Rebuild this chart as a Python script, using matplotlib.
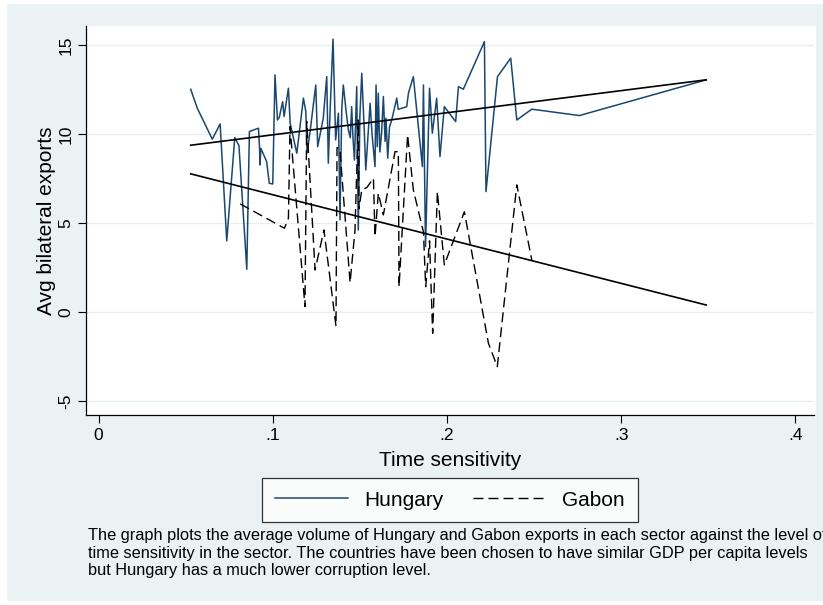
import matplotlib
matplotlib.use('Agg')
import matplotlib.pyplot as plt
from matplotlib.patches import Rectangle

plt.rcParams['font.family'] = ['Liberation Sans', 'DejaVu Sans']

# Hungary: average exports per sector against time sensitivity
hun_x = [0.0529, 0.0567, 0.0653, 0.0698, 0.0736, 0.0782, 0.0806, 0.0851, 0.0866,
         0.0918, 0.0924, 0.0927, 0.0932, 0.0965, 0.0980, 0.1000, 0.1013, 0.1027,
         0.1038, 0.1045, 0.1057, 0.1065, 0.1090, 0.1100, 0.1138, 0.1150, 0.1176,
         0.1190, 0.1197, 0.1215, 0.1247, 0.1258, 0.1290, 0.1310, 0.1319, 0.1330,
         0.1346, 0.1361, 0.1377, 0.1386, 0.1396, 0.1405, 0.1420, 0.1434, 0.1445,
         0.1453, 0.1460, 0.1469, 0.1482, 0.1491, 0.1500, 0.1511, 0.1525, 0.1534,
         0.1559, 0.1570, 0.1587, 0.1593, 0.1600, 0.1606, 0.1615, 0.1625, 0.1635,
         0.1645, 0.1650, 0.1660, 0.1670, 0.1683, 0.1712, 0.1720, 0.1769, 0.1779,
         0.1807, 0.1859, 0.1865, 0.1877, 0.1900, 0.1916, 0.1941, 0.1960, 0.1985,
         0.2050, 0.2066, 0.2094, 0.2215, 0.2224, 0.2290, 0.2366, 0.2401, 0.2487,
         0.2760, 0.3488]
hun_y = [12.53, 11.46, 9.72, 10.58, 4.0, 9.81, 9.36, 2.4, 10.15,
         10.34, 9.3, 8.27, 9.2, 8.46, 7.24, 7.2, 13.34, 10.8,
         10.96, 11.3, 11.83, 11.0, 12.59, 10.62, 8.93, 9.9, 12.03,
         11.27, 8.95, 10.2, 12.77, 9.3, 10.9, 13.24, 8.37, 11.5,
         15.35, 9.68, 11.18, 5.18, 11.37, 12.77, 11.4, 10.24, 9.8,
         11.55, 9.9, 8.55, 12.68, 4.61, 11.0, 13.43, 10.3, 7.99,
         11.74, 10.0, 8.18, 12.77, 9.3, 12.31, 9.0, 10.1, 12.12,
         9.6, 10.9, 8.65, 10.4, 10.8, 12.03, 11.4, 11.55, 12.31,
         13.24, 8.18, 12.77, 3.68, 12.59, 10.06, 12.02, 8.74, 11.55,
         10.71, 12.68, 12.53, 15.21, 6.77, 13.24, 14.28, 10.8, 11.41,
         11.05, 13.06]

# Gabon
gab_x = [0.0813, 0.1067, 0.1090, 0.1099, 0.1185, 0.1195, 0.1243, 0.1294, 0.1363,
         0.1369, 0.1385, 0.1444, 0.1472, 0.1491, 0.1495, 0.1511, 0.1540, 0.1578,
         0.1587, 0.1606, 0.1635, 0.1702, 0.1721, 0.1725, 0.1774, 0.1807, 0.1865,
         0.1878, 0.1900, 0.1918, 0.1945, 0.1985, 0.2100, 0.2238, 0.2289, 0.2401,
         0.2487]
gab_y = [6.08, 4.71, 5.27, 10.43, 0.3, 10.71, 2.36, 4.61, -0.8,
         9.25, 9.2, 1.65, 4.6, 10.8, 5.8, 6.87, 7.0, 7.52,
         4.24, 6.68, 5.46, 9.02, 9.02, 1.42, 9.96, 6.87, 4.5,
         1.42, 4.0, -1.2, 6.77, 2.65, 5.64, -1.76, -3.08, 7.15,
         2.93]

# fitted values
fit_x = [0.0529, 0.3488]
hun_fit = [9.38, 13.06]
gab_fit = [7.77, 0.39]

xticks = [0, 0.1, 0.2, 0.3, 0.4]
xtick_labels = ['0', '.1', '.2', '.3', '.4']
yticks = [-5, 0, 5, 10, 15]

note = ("The graph plots the average volume of Hungary and Gabon exports in each sector against the level of\n"
        "time sensitivity in the sector. The countries have been chosen to have similar GDP per capita levels\n"
        "but Hungary has a much lower corruption level.")

W, H = 823, 605
fig = plt.figure(figsize=(W / 100, H / 100), dpi=100, facecolor='white')
fig.patches.append(Rectangle((7 / W, 4 / H), 1, 1 - 8 / H, transform=fig.transFigure,
                             facecolor='#EAF2F3', edgecolor='none', zorder=-2))
# white plot region
fig.patches.append(Rectangle((86 / W, 1 - 415 / H), (816 - 86) / W, (415 - 26) / H,
                             transform=fig.transFigure, facecolor='white',
                             edgecolor='none', zorder=-1))

ax = fig.add_axes([86 / W, 1 - 415 / H, (814 - 86) / W, (415 - 26) / H])
ax.set_zorder(1)
ax.patch.set_alpha(0)

navy = '#1A476F'
ax.plot(hun_x, hun_y, color=navy, lw=1.1, label='Hungary', zorder=3)
ax.plot(gab_x, gab_y, color='black', lw=1.0, ls=(0, (7.2, 3.6)), label='Gabon', zorder=3)
ax.plot(fit_x, hun_fit, color='black', lw=1.2, zorder=4)
ax.plot(fit_x, gab_fit, color='black', lw=1.2, zorder=4)

ax.set_xlim(-0.0072, 0.4107)
ax.set_ylim(-5.80, 16.09)
ax.set_xticks(xticks)
ax.set_xticklabels(xtick_labels)
ax.set_yticks(yticks)
ax.set_yticklabels([str(v) for v in yticks], rotation=90, va='center')
ax.tick_params(axis='both', direction='out', length=6, width=0.8, labelsize=12.5, pad=3)
ax.grid(axis='y', color='#E6EFF0', lw=1.0)
ax.set_axisbelow(True)
for s in ['top', 'right']:
    ax.spines[s].set_visible(False)
for s in ['left', 'bottom']:
    ax.spines[s].set_linewidth(0.9)

ax.set_xlabel('Time sensitivity', fontsize=15, labelpad=6)
ax.set_ylabel('Avg bilateral exports', fontsize=15, labelpad=2)

leg = fig.legend(loc='center', bbox_to_anchor=(450 / W, 1 - 500 / H), ncol=2,
                 fontsize=15, frameon=True, fancybox=False, edgecolor='black',
                 handlelength=3.5, columnspacing=1.4, handletextpad=0.8,
                 borderpad=0.6, borderaxespad=0)
leg.get_frame().set_linewidth(0.9)

fig.text(88 / W, 1 - 528 / H, note, fontsize=11.8, va='top', ha='left',
         linespacing=1.22)

fig.savefig('out.png', dpi=100, facecolor=fig.get_facecolor())
